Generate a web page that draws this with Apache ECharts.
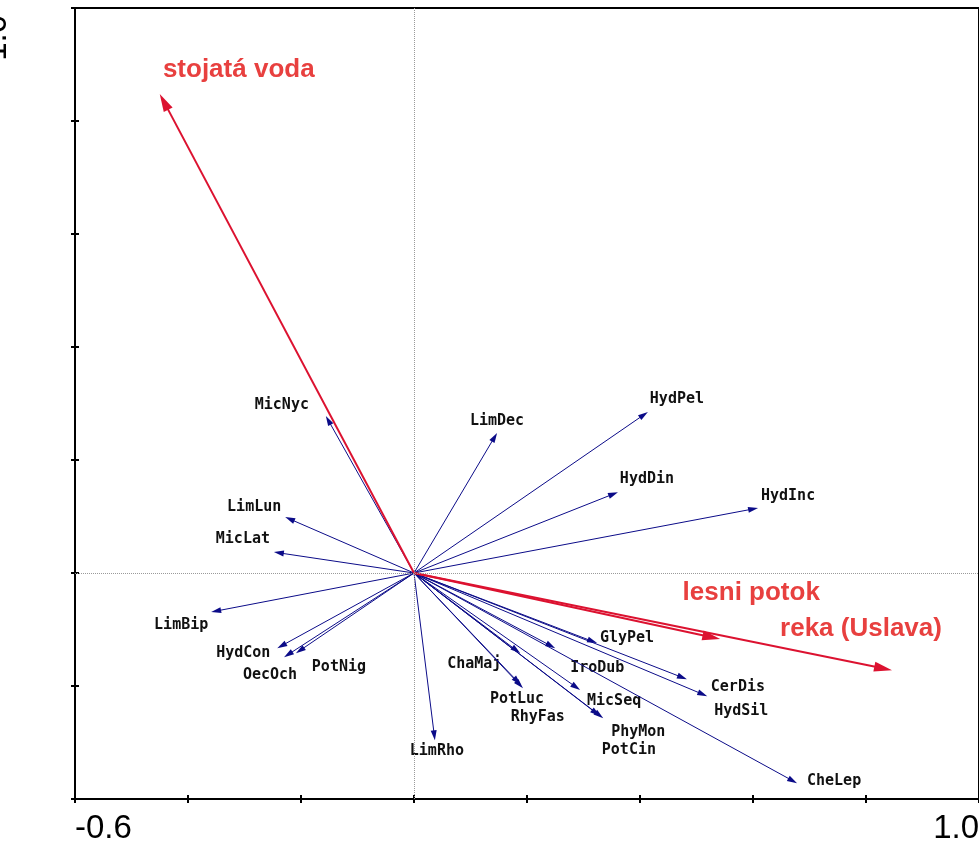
<!DOCTYPE html>
<html>
<head>
<meta charset="utf-8">
<script src="https://cdn.jsdelivr.net/npm/echarts@6/dist/echarts.min.js"></script>
<style>
  html, body { margin: 0; padding: 0; background: #fff; }
  #chart { width: 979px; height: 845px; }
</style>
</head>
<body>
<div id="chart"></div>
<script>
// axis range
var xMin = -0.6, xMax = 1.0, yMin = -0.4, yMax = 1.0, tickStep = 0.2;

// species scores (blue arrows)
var speciesNames = ['MicNyc', 'LimLun', 'MicLat', 'LimBip', 'HydCon', 'OecOch', 'PotNig', 'LimRho',
    'LimDec', 'HydPel', 'HydDin', 'HydInc', 'ChaMaj', 'PotLuc', 'RhyFas', 'GlyPel', 'IroDub',
    'MicSeq', 'PhyMon', 'PotCin', 'CerDis', 'HydSil', 'CheLep'];
var speciesX = [-0.156, -0.228, -0.248, -0.359, -0.242, -0.230, -0.209, 0.037,
    0.147, 0.414, 0.361, 0.609, 0.188, 0.193, 0.189, 0.324, 0.250,
    0.294, 0.335, 0.329, 0.483, 0.519, 0.678];
var speciesY = [0.278, 0.099, 0.037, -0.069, -0.133, -0.149, -0.142, -0.296,
    0.248, 0.285, 0.143, 0.115, -0.142, -0.204, -0.198, -0.124, -0.133,
    -0.207, -0.257, -0.253, -0.188, -0.218, -0.372];

// environmental variables (red arrows)
var envNames = ['stojatá voda', 'lesni potok', 'reka (Uslava)'];
var envX = [-0.450, 0.542, 0.846];
var envY = [0.848, -0.117, -0.172];

// label placement relative to the arrow tip, in pixels
var labelOffset = {
    MicNyc: [-44, -11], LimLun: [-31, -10], MicLat: [-31, -13], LimBip: [-30, 13],
    HydCon: [-34, 5], OecOch: [-14, 18], PotNig: [43, 14], LimRho: [2, 11],
    LimDec: [0, -12], HydPel: [29, -13], HydDin: [29, -13], HydInc: [30, -12],
    ChaMaj: [-46, 11], PotLuc: [-6, 11], RhyFas: [17, 32], GlyPel: [30, -5],
    IroDub: [42, 20], MicSeq: [34, 11], PhyMon: [35, 14], PotCin: [29, 34],
    CerDis: [51, 8], HydSil: [34, 15], CheLep: [37, -2],
    'stojatá voda': [79, -24], 'lesni potok': [31, -46], 'reka (Uslava)': [-31, -41]
};

var blue = '#0b0b88';
var red = '#dc1230';

function arrowRenderer(names, color, lineWidth, headLen, headWidth, font, textColor) {
    return function (params, api) {
        var name = names[params.dataIndex];
        var o = api.coord([0, 0]);
        var p = api.coord([api.value(0), api.value(1)]);
        var dx = p[0] - o[0], dy = p[1] - o[1];
        var len = Math.sqrt(dx * dx + dy * dy);
        var ux = dx / len, uy = dy / len;
        var bx = p[0] - ux * headLen, by = p[1] - uy * headLen;
        var nx = -uy * headWidth / 2, ny = ux * headWidth / 2;
        var off = labelOffset[name] || [0, 0];
        return {
            type: 'group',
            children: [
                {
                    type: 'line',
                    shape: { x1: o[0], y1: o[1], x2: bx + ux, y2: by + uy },
                    style: { stroke: color, lineWidth: lineWidth }
                },
                {
                    type: 'polygon',
                    shape: { points: [[p[0], p[1]], [bx + nx, by + ny], [bx - nx, by - ny]] },
                    style: { fill: color }
                },
                {
                    type: 'text',
                    x: p[0] + off[0],
                    y: p[1] + off[1],
                    style: {
                        text: name, font: font, fill: textColor,
                        align: 'center', verticalAlign: 'middle'
                    }
                }
            ]
        };
    };
}

var onlyEnds = function (min, max) {
    return function (v) {
        return (Math.abs(v - min) < 1e-9 || Math.abs(v - max) < 1e-9) ? v.toFixed(1) : '';
    };
};

var chart = echarts.init(document.getElementById('chart'));
chart.setOption({
    animation: false,
    grid: {
        left: 75, right: 0, top: 8, bottom: 46,
        containLabel: false, outerBoundsMode: 'none',
        show: true, borderColor: '#000', borderWidth: 2
    },
    xAxis: [{
        type: 'value', min: xMin, max: xMax, interval: tickStep, position: 'bottom',
        axisLine: { onZero: false, lineStyle: { color: '#000', width: 2 } },
        axisTick: { length: 4, lineStyle: { color: '#000', width: 2 } },
        splitLine: { show: false },
        axisLabel: {
            interval: 0, margin: 13, color: '#000',
            fontFamily: 'Liberation Sans', fontSize: 33,
            formatter: onlyEnds(xMin, xMax),
            alignMinLabel: 'left', alignMaxLabel: 'right'
        }
    }, {
        type: 'value', min: xMin, max: xMax, interval: tickStep, position: 'bottom',
        axisLine: { show: false, onZero: false },
        axisTick: { inside: true, length: 4, lineStyle: { color: '#000', width: 2 } },
        splitLine: { show: false },
        axisLabel: { show: false }
    }],
    yAxis: [{
        type: 'value', min: yMin, max: yMax, interval: tickStep, position: 'left',
        axisLine: { onZero: false, lineStyle: { color: '#000', width: 2 } },
        axisTick: { length: 4, lineStyle: { color: '#000', width: 2 } },
        splitLine: { show: false },
        axisLabel: {
            interval: 0, margin: 62, rotate: 90, color: '#000',
            fontFamily: 'Liberation Sans', fontSize: 33,
            padding: [0, 7, 0, 0],
            formatter: function (v) { return Math.abs(v - yMax) < 1e-9 ? v.toFixed(1) : ''; },
            alignMaxLabel: 'right'
        }
    }, {
        type: 'value', min: yMin, max: yMax, interval: tickStep, position: 'left',
        axisLine: { show: false, onZero: false },
        axisTick: { inside: true, length: 4, lineStyle: { color: '#000', width: 2 } },
        splitLine: { show: false },
        axisLabel: { show: false }
    }],
    series: [{
        type: 'line',
        data: [],
        z: 1,
        markLine: {
            silent: true,
            symbol: 'none',
            label: { show: false },
            lineStyle: { color: '#9a9a9a', type: 'dotted', width: 1 },
            data: [{ xAxis: 0 }, { yAxis: 0 }]
        }
    }, {
        type: 'custom',
        z: 2,
        renderItem: arrowRenderer(speciesNames, blue, 1, 10, 6, 'bold 15px "DejaVu Sans Mono"', '#111'),
        data: speciesNames.map(function (n, i) { return [speciesX[i], speciesY[i]]; })
    }, {
        type: 'custom',
        z: 3,
        renderItem: arrowRenderer(envNames, red, 2, 18, 10, 'bold 26px "Liberation Sans"', '#e8403f'),
        data: envNames.map(function (n, i) { return [envX[i], envY[i]]; })
    }]
});
</script>
</body>
</html>
